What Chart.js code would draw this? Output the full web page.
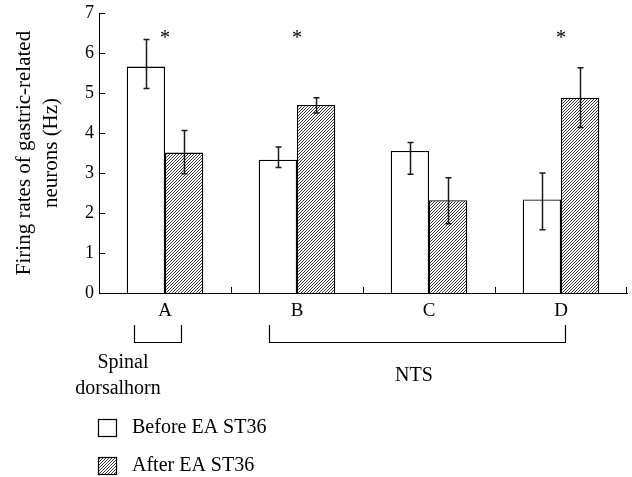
<!DOCTYPE html>
<html>
<head>
<meta charset="utf-8">
<script src="https://cdn.jsdelivr.net/npm/chart.js@4.4.1/dist/chart.umd.min.js"></script>
<style>
  html, body { margin: 0; padding: 0; background: #fff; }
  #wrap { width: 632px; height: 477px; }
</style>
</head>
<body>
<div id="wrap"><canvas id="chart" width="632" height="477"></canvas></div>
<script>
// data
const categories = ['A', 'B', 'C', 'D'];
const beforeValues = [5.66, 3.33, 3.55, 2.34];
const afterValues = [3.51, 4.70, 2.32, 4.88];
const beforeHigh = [6.34, 3.65, 3.76, 3.00];
const beforeLow = [5.11, 3.14, 2.97, 1.58];
const afterHigh = [4.06, 4.88, 2.88, 5.63];
const afterLow = [2.98, 4.50, 1.73, 4.14];
const starred = [true, true, false, true];
const starLevel = 6.35;
const yTicks = [0, 1, 2, 3, 4, 5, 6, 7];
const legendLabels = ['Before EA ST36', 'After EA ST36'];

const FONT = "'Liberation Serif', 'Times New Roman', serif";

const canvas = document.getElementById('chart');
const ctx = canvas.getContext('2d');

// diagonal hatch for the "after" bars
function makeHatch() {
  const n = 3;
  const c = document.createElement('canvas');
  c.width = n; c.height = n;
  const g = c.getContext('2d');
  g.fillStyle = '#fff';
  g.fillRect(0, 0, n, n);
  g.strokeStyle = '#222';
  g.lineWidth = 0.9;
  g.beginPath();
  g.moveTo(0, n); g.lineTo(n, 0);
  g.moveTo(-1, 1); g.lineTo(1, -1);
  g.moveTo(n - 1, n + 1); g.lineTo(n + 1, n - 1);
  g.stroke();
  return ctx.createPattern(c, 'repeat');
}
const hatch = makeHatch();

const extras = {
  id: 'extras',
  afterDatasetsDraw(chart) {
    const c = chart.ctx;
    const xs = chart.scales.x;
    const ys = chart.scales.y;
    const area = chart.chartArea;
    c.save();

    // error bars
    const bounds = [[beforeHigh, beforeLow], [afterHigh, afterLow]];
    c.strokeStyle = '#1a1a1a';
    c.lineWidth = 1.5;
    bounds.forEach(([hi, lo], d) => {
      chart.getDatasetMeta(d).data.forEach((bar, i) => {
        const x = Math.round(bar.x) + 0.5;
        const yh = ys.getPixelForValue(hi[i]);
        const yl = ys.getPixelForValue(lo[i]);
        c.beginPath();
        c.moveTo(x, yh); c.lineTo(x, yl);
        c.moveTo(x - 3, yh); c.lineTo(x + 3, yh);
        c.moveTo(x - 3, yl); c.lineTo(x + 3, yl);
        c.stroke();
      });
    });

    // inward ticks
    c.strokeStyle = '#000';
    c.lineWidth = 1;
    c.beginPath();
    yTicks.forEach(v => {
      const y = Math.round(ys.getPixelForValue(v)) + 0.5;
      c.moveTo(area.left, y); c.lineTo(area.left + 6, y);
    });
    for (let i = 1; i <= categories.length; i++) {
      const x = i < categories.length
        ? Math.round((xs.getPixelForValue(i - 1) + xs.getPixelForValue(i)) / 2) + 0.5
        : area.right - 0.5;
      c.moveTo(x, area.bottom); c.lineTo(x, area.bottom - 6);
    }
    c.stroke();

    // significance stars
    c.fillStyle = '#000';
    c.font = '20px ' + FONT;
    c.textAlign = 'center';
    c.textBaseline = 'middle';
    starred.forEach((s, i) => {
      if (s) c.fillText('*', xs.getPixelForValue(i), ys.getPixelForValue(starLevel));
    });

    // group brackets
    const bTop = 325, bBot = 342.5;
    const bracket = (x1, x2) => {
      c.beginPath();
      c.moveTo(x1, bTop); c.lineTo(x1, bBot); c.lineTo(x2, bBot); c.lineTo(x2, bTop);
      c.stroke();
    };
    c.lineWidth = 1.2;
    const xa = xs.getPixelForValue(0);
    bracket(Math.round(xa - 31) + 0.5, Math.round(xa + 16) + 0.5);
    const xb = xs.getPixelForValue(1), xd = xs.getPixelForValue(3);
    bracket(Math.round(xb - 28) + 0.5, Math.round(xd + 4) + 0.5);

    c.font = '20px ' + FONT;
    c.fillText('Spinal', 123, 363);
    c.fillText('dorsalhorn', 118, 389);
    c.fillText('NTS', (xb - 28 + xd + 4) / 2 - 3, 376);

    // legend
    const rows = [428, 466];
    c.textAlign = 'left';
    legendLabels.forEach((lbl, i) => {
      const y0 = rows[i] - 8.5;
      c.fillStyle = i === 0 ? '#fff' : hatch;
      c.fillRect(98.5, y0, 18, 17);
      c.strokeStyle = '#000';
      c.lineWidth = 1.2;
      c.strokeRect(98.5, y0, 18, 17);
      c.fillStyle = '#000';
      c.fillText(lbl, 132, rows[i]);
    });

    c.restore();
  }
};

new Chart(canvas, {
  type: 'bar',
  data: {
    labels: categories,
    datasets: [
      {
        label: legendLabels[0],
        data: beforeValues,
        backgroundColor: '#fff',
        borderColor: '#000',
        borderWidth: 1.3
      },
      {
        label: legendLabels[1],
        data: afterValues,
        backgroundColor: hatch,
        borderColor: '#000',
        borderWidth: 1.3
      }
    ]
  },
  options: {
    responsive: false,
    animation: false,
    categoryPercentage: 0.58,
    barPercentage: 1,
    layout: { padding: { top: 13, right: 5, left: 0, bottom: 0 } },
    plugins: {
      legend: { display: false },
      tooltip: { enabled: false }
    },
    scales: {
      x: {
        grid: { display: false, drawTicks: false },
        border: { display: true, color: '#000', width: 1 },
        ticks: { color: '#000', font: { family: FONT, size: 19 }, padding: 7 },
        afterFit: s => { s.height = 184; }
      },
      y: {
        min: 0,
        max: 7,
        afterBuildTicks: s => { s.ticks = yTicks.map(v => ({ value: v })); },
        grid: { display: false, drawTicks: false },
        border: { display: true, color: '#000', width: 1 },
        ticks: { color: '#000', font: { family: FONT, size: 18 }, padding: 5 },
        title: {
          display: true,
          text: ['Firing rates of gastric-related', 'neurons (Hz)'],
          color: '#000',
          font: { family: FONT, size: 21, lineHeight: 1.3 },
          padding: { top: 11, bottom: 0 }
        },
        afterFit: s => {
          s.width = 99;
          s.paddingTop = 0;
          s.paddingBottom = 0;
        }
      }
    }
  },
  plugins: [extras]
});
</script>
</body>
</html>
